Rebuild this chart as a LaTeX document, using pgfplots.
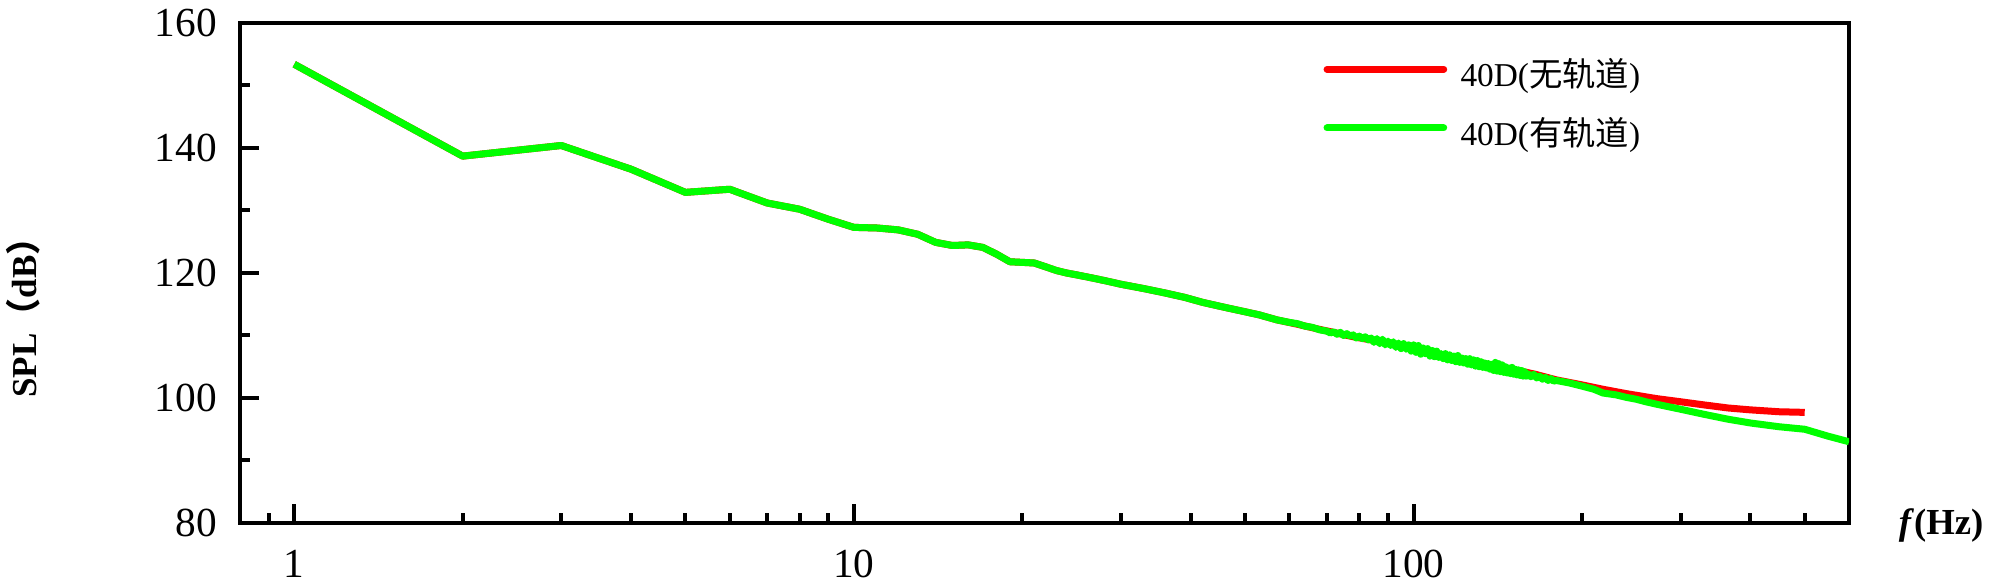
\documentclass[border=0pt]{standalone}
\usepackage{fontspec}
\setmainfont{Liberation Serif}
\newfontfamily\cjk{Noto Sans CJK SC}
\usepackage{pgfplots}
\pgfplotsset{compat=1.18}
\definecolor{lgreen}{RGB}{0,255,0}
\definecolor{lred}{RGB}{255,0,0}
\begin{document}
\begin{tikzpicture}
\begin{axis}[
  scale only axis, width=482.7bp, height=150bp,
  xmode=log, xmin=0.8, xmax=600, ymin=80, ymax=160,
  xtick={1,10,100}, xticklabels={1,10,100},
  minor xtick={0.9,2,3,4,5,6,7,8,9,20,30,40,50,60,70,80,90,200,300,400,500},
  ytick={80,100,120,140,160}, minor ytick={90,110,130,150},
  tick pos=left, tick align=inside,
  major tick length=5.7bp, minor tick length=3bp,
  tick style={line width=1.2bp, black},
  axis line style={line width=1.2bp},
  /pgf/number format/assume math mode=true,
  ticklabel style={font=\fontsize{12.4bp}{14bp}\selectfont},
  yticklabel style={xshift=-3.4bp},
  xticklabel style={yshift=-4.6bp},
  ylabel={\bfseries SPL{\cjk （}dB{\cjk ）}},
  ylabel style={at={(axis description cs:-0.1347,0.428)}, anchor=center, font=\fontsize{10.5bp}{12bp}\selectfont},
  xlabel={\textbf{\textit{f}(Hz)}},
  xlabel style={at={(axis description cs:1,0)}, anchor=base east, xshift=43.8bp, yshift=-3.3bp, font=\fontsize{11bp}{13bp}\selectfont},
  legend style={draw=none, fill=none, at={(axis description cs:0.673,0.920)}, anchor=north west,
    font=\fontsize{10bp}{11bp}\selectfont, row sep=8.6bp, column sep=4bp, inner sep=0pt,
    nodes={inner sep=0pt, text height=7bp, text depth=2bp}},
  legend cell align=left,
  legend image code/.code={\draw[#1, line cap=round] (0bp,2.8bp) -- (35bp,2.8bp);},
]
\addplot[lred, line width=2.1bp, line join=round] table {
f v
1 153.4
2 138.7
3 140.4
4 136.6
5 132.9
6 133.4
7 131.2
8 130.2
9 128.6
10 127.3
11 127.2
12 126.9
13 126.2
14 124.9
15 124.4
16 124.5
17 124.1
18 123.0
19 121.8
20 121.7
21 121.6
22 121.0
23 120.4
24 120.0
25 119.7
26 119.4
27 119.1
28 118.8
29 118.5
30 118.2
33 117.5
36 116.8
39 116.1
42 115.3
46 114.5
50 113.8
53 113.3
57 112.5
62 111.8
67 111.1
72 110.5
78 109.8
85 109.2
94 108.4
100 107.9
110 107.1
120 106.4
130 105.8
140 105.1
150 104.6
165 103.8
180 102.9
200 102.1
218 101.4
240 100.7
272 99.9
300 99.4
330 98.9
365 98.4
400 98.1
450 97.8
500 97.7
};
\addlegendentry{40D(\cjk 无轨道\rmfamily)}
\addplot[lgreen, line width=2.1bp, line join=round] table {
f v
1 153.4
2 138.7
3 140.4
4 136.6
5 132.9
6 133.4
7 131.2
8 130.2
9 128.6
10 127.3
11 127.2
12 126.9
13 126.2
14 124.9
15 124.4
16 124.5
17 124.1
18 123.0
19 121.8
20 121.7
21 121.6
22 121.0
23 120.4
24 120.0
25 119.7
26 119.4
27 119.1
28 118.8
29 118.5
30 118.2
33 117.5
36 116.8
39 116.1
42 115.3
46 114.5
50 113.8
53 113.3
57 112.5
60 112.1
62 111.9
64 111.5
66 111.3
68 110.9
70 110.7
71 110.4
72 110.6
73 110.2
74 110.5
75 110.0
76 110.3
77 109.9
78 110.1
79 109.6
80 109.9
81 109.5
82 109.8
83 109.3
84 109.6
85 108.9
86 109.5
87 108.7
88 109.4
89 108.5
90 109.1
91 108.4
92 109.0
93 108.1
94 108.8
95 107.9
96 108.7
97 107.8
98 108.5
99 107.5
100 108.5
101 107.3
102 108.4
103 107.0
104 108.0
105 107.1
106 107.9
107 106.7
108 107.6
109 106.6
110 107.5
111 106.5
112 107.1
113 106.3
114 107.1
115 106.1
116 106.9
117 106.0
118 106.7
119 105.8
120 106.8
121 105.7
122 106.4
123 105.6
124 106.3
125 105.4
126 106.3
127 105.3
128 106.1
129 105.1
130 106.0
131 105.0
132 105.8
133 104.9
134 105.6
135 104.8
136 105.5
137 104.6
138 105.4
139 104.4
140 105.7
141 104.3
142 105.5
143 104.2
144 105.3
145 104.1
146 105.0
147 104.0
148 104.8
149 103.9
150 104.9
151 103.8
152 104.6
153 103.7
154 104.5
155 103.6
156 104.4
157 103.5
158 104.2
159 103.5
160 103.9
162 103.4
164 103.8
166 103.2
168 103.5
170 103.0
172 103.3
174 102.8
176 103.1
178 102.7
180 102.8
190 102.4
200 101.9
210 101.4
218 100.8
230 100.5
240 100.1
250 99.8
260 99.4
272 99.0
300 98.2
330 97.4
365 96.6
400 96.0
450 95.4
500 95.0
550 93.9
600 93.0
};
\addlegendentry{40D(\cjk 有轨道\rmfamily)}
\end{axis}
\pgfresetboundingbox
\path[use as bounding box] (-72bp,-18.9bp) rectangle (528bp,156.9bp);
\end{tikzpicture}
\end{document}
